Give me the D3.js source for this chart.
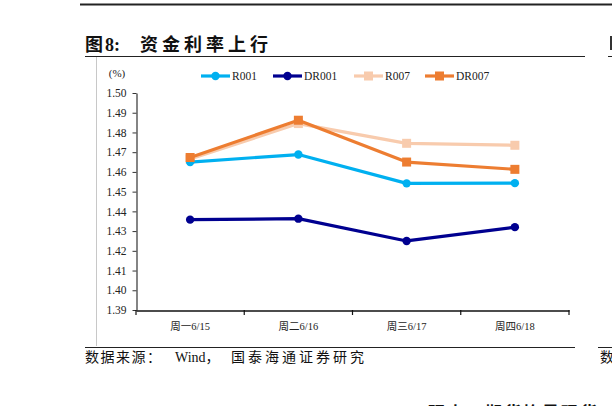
<!DOCTYPE html>
<html><head><meta charset="utf-8">
<script src="https://cdn.jsdelivr.net/npm/d3@7"></script>
<style>
html,body{margin:0;padding:0;background:#fff;}
svg{display:block;}
</style></head>
<body>
<svg id="c" width="612" height="406"></svg>
<script>
const categories = ["周一6/15", "周二6/16", "周三6/17", "周四6/18"];
const seriesNames = ["R001", "DR001", "R007", "DR007"];
const R001 = [1.4650, 1.4688, 1.4542, 1.4543];
const DR001 = [1.4358, 1.4363, 1.4250, 1.4320];
const R007 = [1.4665, 1.4845, 1.4745, 1.4735];
const DR007 = [1.4673, 1.4862, 1.4650, 1.4613];
const yTicks = [1.39,1.40,1.41,1.42,1.43,1.44,1.45,1.46,1.47,1.48,1.49,1.50];

const svg = d3.select("#c");
const serif = "'Liberation Serif','Times New Roman','Noto Sans CJK SC',serif";
const cjk = "'Liberation Serif','Noto Sans CJK SC',serif";

// page decorations
svg.append("line").attr("x1",80).attr("x2",612).attr("y1",4.5).attr("y2",4.5).attr("stroke","#222").attr("stroke-width",2);
const title = svg.append("text").attr("y",51).attr("font-family",cjk).attr("font-weight","bold").attr("font-size",18).attr("fill","#111");
title.append("tspan").attr("x",85).text("图");
title.append("tspan").attr("x",105).text("8:");
title.append("tspan").attr("x",140).attr("letter-spacing",4).text("资金利率上行");
svg.append("line").attr("x1",85).attr("x2",585).attr("y1",56.5).attr("y2",56.5).attr("stroke","#222").attr("stroke-width",1);
svg.append("line").attr("x1",608).attr("x2",612).attr("y1",56.5).attr("y2",56.5).attr("stroke","#222").attr("stroke-width",1);
svg.append("rect").attr("x",610).attr("y",36).attr("width",2).attr("height",14).attr("fill","#333");
svg.append("line").attr("x1",96.5).attr("x2",96.5).attr("y1",57).attr("y2",346).attr("stroke","#c8c8c8").attr("stroke-width",1);
svg.append("line").attr("x1",85).attr("x2",575).attr("y1",347.5).attr("y2",347.5).attr("stroke","#222").attr("stroke-width",1);
svg.append("line").attr("x1",598).attr("x2",612).attr("y1",347.5).attr("y2",347.5).attr("stroke","#222").attr("stroke-width",1);
const src = svg.append("text").attr("y",362).attr("font-family",cjk).attr("font-size",14).attr("fill","#111");
src.append("tspan").attr("x",85).attr("letter-spacing",1.5).text("数据来源：");
src.append("tspan").attr("x",175).text("Wind，");
src.append("tspan").attr("x",231).attr("letter-spacing",3).text("国泰海通证券研究");
svg.append("text").attr("x",600).attr("y",362).attr("font-family",cjk).attr("font-size",14).attr("fill","#111").text("数");
svg.append("text").attr("x",428).attr("y",419).attr("font-family",cjk).attr("font-weight","bold").attr("font-size",17).attr("letter-spacing",2).attr("fill","#111")
  .text("观点：期货均是现货");

// scales
const x = d3.scaleBand().domain(categories).range([136, 569]);
const y = d3.scaleLinear().domain([1.39, 1.50]).range([310, 93]);

// y axis
const yAxis = d3.axisLeft(y).tickValues(yTicks).tickFormat(d3.format(".2f")).tickSize(4).tickSizeOuter(0);
const gy = svg.append("g").attr("transform","translate(136.5,0)").call(yAxis);
gy.select(".domain").attr("stroke","#333").attr("stroke-width",1.2);
gy.selectAll(".tick line").attr("stroke","#333");
gy.selectAll(".tick text").attr("font-family",serif).attr("font-size",11.5).attr("fill","#222").attr("x",-10);

// x axis
const xAxis = d3.axisBottom(x).tickSize(0).tickSizeOuter(0);
const gx = svg.append("g").attr("transform","translate(0,310.5)").call(xAxis);
gx.select(".domain").attr("stroke","#111").attr("stroke-width",1.5);
gx.selectAll(".tick text").attr("font-family",cjk).attr("font-size",10.5).attr("fill","#222").attr("dy","1.55em");
const bounds = categories.map(c => x(c)).concat([x(categories[categories.length-1]) + x.bandwidth()]);
svg.append("g").selectAll("line").data(bounds).join("line")
  .attr("x1",d=>d).attr("x2",d=>d).attr("y1",310).attr("y2",315).attr("stroke","#111").attr("stroke-width",1.2);

svg.append("text").attr("x",117).attr("y",77).attr("text-anchor","middle").attr("font-family",serif).attr("font-size",11).attr("fill","#222").text("(%)");

const series = [
  {name:"R001", data:R001, color:"#00B0F0", marker:"circle"},
  {name:"DR001", data:DR001, color:"#000090", marker:"circle"},
  {name:"R007", data:R007, color:"#F8CBAD", marker:"square"},
  {name:"DR007", data:DR007, color:"#ED7D31", marker:"square"}
];
const cx = c => x(c) + x.bandwidth()/2;
const line = d3.line().x((d,i)=>cx(categories[i])).y(d=>y(d));

function drawMarker(g, type, px, py, color){
  if(type==="circle") g.append("circle").attr("cx",px).attr("cy",py).attr("r",4.2).attr("fill",color);
  else g.append("rect").attr("x",px-4.5).attr("y",py-4.5).attr("width",9).attr("height",9).attr("fill",color);
}

const order = [series[2], series[0], series[1], series[3]];
order.forEach(s => {
  const g = svg.append("g");
  g.append("path").attr("d", line(s.data)).attr("fill","none").attr("stroke",s.color).attr("stroke-width",3.2).attr("stroke-linejoin","round");
  s.data.forEach((v,i)=>drawMarker(g, s.marker, cx(categories[i]), y(v), s.color));
});

// legend
const legX = [201, 273, 354, 425];
series.forEach((s,i)=>{
  const g = svg.append("g");
  const x0 = legX[i], ly = 76;
  g.append("line").attr("x1",x0).attr("x2",x0+29).attr("y1",ly).attr("y2",ly).attr("stroke",s.color).attr("stroke-width",3.2);
  drawMarker(g, s.marker, x0+14.5, ly, s.color);
  g.append("text").attr("x",x0+31).attr("y",ly+4).attr("font-family",serif).attr("font-size",11.5).attr("fill","#222").text(s.name);
});
</script>
</body></html>
